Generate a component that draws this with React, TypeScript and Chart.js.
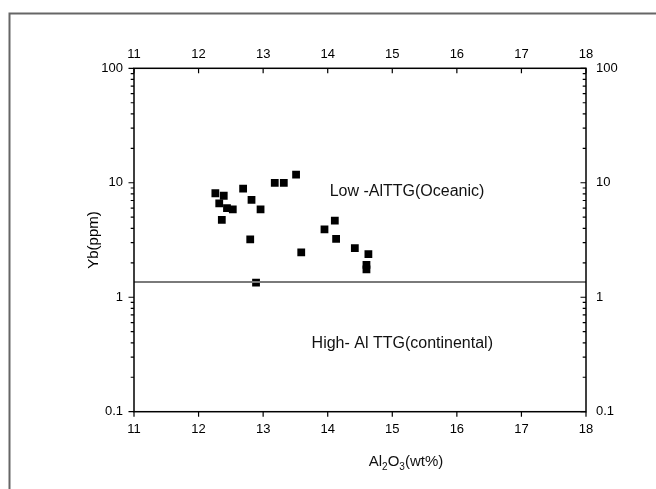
import React, { useEffect, useRef } from "react";
import { Chart, registerables } from "chart.js";

Chart.register(...registerables);

// Data
const alumina = [12.26, 12.39, 12.69, 13.18, 13.32, 13.51, 12.32, 12.44, 12.53, 12.82, 12.96, 12.36, 12.8, 13.59, 14.11, 13.95, 14.13, 14.42, 14.63, 14.6, 14.6, 12.89];
const ytterbium = [8.1, 7.7, 8.9, 10.0, 10.0, 11.8, 6.6, 6.0, 5.85, 7.1, 5.85, 4.75, 3.2, 2.47, 4.66, 3.92, 3.24, 2.69, 2.38, 1.92, 1.75, 1.34];
const boundaryX = [11, 18];
const boundaryYb = 1.36;
const xTicks = [11, 12, 13, 14, 15, 16, 17, 18];
const yMajorTicks = [0.1, 1, 10, 100];
const oceanicLabel = { text: "Low -AlTTG(Oceanic)", x: 14.03, y: 8.35 };
const continentalLabel = { text: "High- Al TTG(continental)", x: 13.75, y: 0.396 };

const FONT = "Arial, 'Liberation Sans', sans-serif";

const decoPlugin = {
  id: "deco",
  beforeDraw(chart: any) {
    const ctx = chart.ctx;
    ctx.save();
    ctx.fillStyle = "#fff";
    ctx.fillRect(0, 0, chart.width, chart.height);
    ctx.strokeStyle = "#666";
    ctx.lineWidth = 2;
    ctx.beginPath();
    ctx.moveTo(9.5, 489);
    ctx.lineTo(9.5, 13.5);
    ctx.lineTo(656, 13.5);
    ctx.stroke();
    ctx.restore();
  },
  afterDraw(chart: any) {
    const ctx = chart.ctx;
    const { left, right, top, bottom } = chart.chartArea;
    const xs = chart.scales.x;
    const ys = chart.scales.y;
    ctx.save();
    ctx.strokeStyle = "#000";
    ctx.lineWidth = 1.5;
    ctx.strokeRect(left, top, right - left, bottom - top);
    ctx.lineWidth = 1.2;
    ctx.beginPath();
    // x ticks
    xTicks.forEach((v) => {
      const px = xs.getPixelForValue(v);
      ctx.moveTo(px, bottom);
      ctx.lineTo(px, bottom + 5);
      ctx.moveTo(px, top);
      ctx.lineTo(px, top + 5);
    });
    // y ticks (major + minor)
    for (let d = 0; d < yMajorTicks.length; d++) {
      const base = yMajorTicks[d];
      const py = ys.getPixelForValue(base);
      ctx.moveTo(left, py);
      ctx.lineTo(left - 5.5, py);
      ctx.moveTo(right, py);
      ctx.lineTo(right - 5.5, py);
      if (d < yMajorTicks.length - 1) {
        for (let m = 2; m <= 9; m++) {
          const pm = ys.getPixelForValue(base * m);
          ctx.moveTo(left, pm);
          ctx.lineTo(left - 3.3, pm);
          ctx.moveTo(right, pm);
          ctx.lineTo(right - 3.3, pm);
        }
      }
    }
    ctx.stroke();

    // annotations
    ctx.fillStyle = "#111";
    ctx.font = `16px ${FONT}`;
    ctx.textBaseline = "middle";
    ctx.textAlign = "left";
    [oceanicLabel, continentalLabel].forEach((l) => {
      ctx.fillText(l.text, xs.getPixelForValue(l.x), ys.getPixelForValue(l.y));
    });

    // x axis title with subscripts
    const parts: [string, boolean][] = [["Al", false], ["2", true], ["O", false], ["3", true], ["(wt%)", false]];
    const big = `15px ${FONT}`;
    const small = `10px ${FONT}`;
    let total = 0;
    parts.forEach(([t, sub]) => {
      ctx.font = sub ? small : big;
      total += ctx.measureText(t).width;
    });
    const cx = (left + right) / 2 + 46;
    let xPos = cx - total / 2;
    const baseY = 466;
    ctx.textBaseline = "alphabetic";
    parts.forEach(([t, sub]) => {
      ctx.font = sub ? small : big;
      ctx.fillText(t, xPos, sub ? baseY + 4 : baseY);
      xPos += ctx.measureText(t).width;
    });
    ctx.restore();
  },
};

export default function App() {
  const ref = useRef<HTMLCanvasElement>(null);
  useEffect(() => {
    if (!ref.current) return;
    const scatter = alumina.map((x, i) => ({ x, y: ytterbium[i] }));
    const line = boundaryX.map((x) => ({ x, y: boundaryYb }));
    const tickFont = { family: FONT, size: 13 };
    const chart = new Chart(ref.current, {
      type: "scatter",
      data: {
        datasets: [
          {
            type: "line",
            data: line,
            borderColor: "#7a7a7a",
            borderWidth: 2,
            pointRadius: 0,
            xAxisID: "x",
            yAxisID: "y",
          } as any,
          {
            data: scatter,
            pointStyle: "rect",
            pointRadius: 5.5,
            backgroundColor: "#000",
            borderColor: "#000",
            borderWidth: 0,
            xAxisID: "x",
            yAxisID: "y",
          },
        ],
      },
      options: {
        responsive: false,
        animation: false,
        events: [],
        layout: { padding: { left: 85, right: 0, top: 0, bottom: 0 } },
        plugins: { legend: { display: false }, tooltip: { enabled: false } },
        scales: {
          x: {
            type: "linear",
            position: "bottom",
            min: 11,
            max: 18,
            grid: { display: false, drawTicks: false },
            border: { display: false },
            afterBuildTicks: (s: any) => { s.ticks = xTicks.map((v) => ({ value: v })); },
            afterFit: (s: any) => { s.height = 77.3; },
            ticks: { color: "#000", font: tickFont, padding: 10, maxRotation: 0, autoSkip: false, callback: (v: any) => String(v) },
          },
          x2: {
            type: "linear",
            position: "top",
            min: 11,
            max: 18,
            grid: { display: false, drawTicks: false },
            border: { display: false },
            afterBuildTicks: (s: any) => { s.ticks = xTicks.map((v) => ({ value: v })); },
            afterFit: (s: any) => { s.height = 68.3; },
            ticks: { color: "#000", font: tickFont, padding: 6, maxRotation: 0, autoSkip: false, callback: (v: any) => String(v) },
          },
          y: {
            type: "logarithmic",
            position: "left",
            min: 0.1,
            max: 100,
            grid: { display: false, drawTicks: false },
            border: { display: false },
            afterBuildTicks: (s: any) => { s.ticks = yMajorTicks.map((v) => ({ value: v })); },
            afterFit: (s: any) => { s.width = 49; },
            ticks: { color: "#000", font: tickFont, padding: 11, autoSkip: false, callback: (v: any) => String(v) },
            title: { display: true, text: "Yb(ppm)", color: "#000", font: { family: FONT, size: 15 }, padding: 0 },
          },
          y2: {
            type: "logarithmic",
            position: "right",
            min: 0.1,
            max: 100,
            grid: { display: false, drawTicks: false },
            border: { display: false },
            afterBuildTicks: (s: any) => { s.ticks = yMajorTicks.map((v) => ({ value: v })); },
            afterFit: (s: any) => { s.width = 70; },
            ticks: { color: "#000", font: tickFont, padding: 10, autoSkip: false, callback: (v: any) => String(v) },
          },
        },
      } as any,
      plugins: [decoPlugin],
    });
    return () => chart.destroy();
  }, []);
  return (
    <div style={{ position: "fixed", left: 0, top: 0, width: 656, height: 489, background: "#fff" }}>
      <canvas ref={ref} width={656} height={489} style={{ width: 656, height: 489, display: "block" }} />
    </div>
  );
}
